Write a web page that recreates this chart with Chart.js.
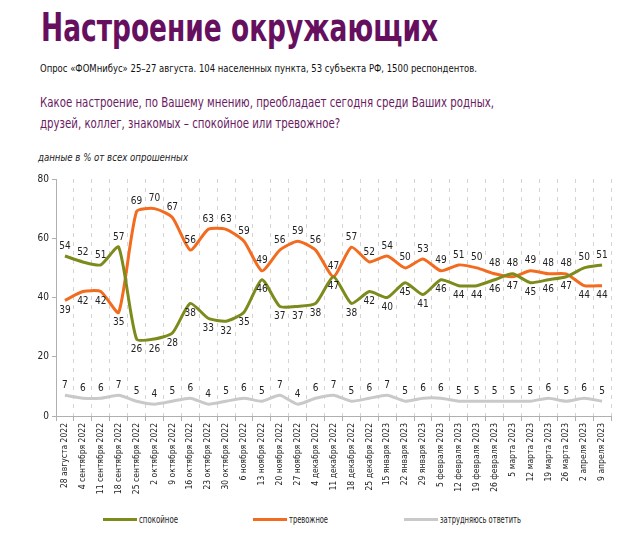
<!DOCTYPE html>
<html lang="ru">
<head>
<meta charset="UTF-8">
<title>Настроение окружающих</title>
<script src="https://cdn.jsdelivr.net/npm/chart.js"></script>
<style>
  body {
    margin: 0;
    background: #fff;
    width: 626px;
    height: 558px;
    position: relative;
    overflow: hidden;
    font-family: "Liberation Sans Narrow", "DejaVu Sans Condensed", sans-serif;
  }
  .txt { position: absolute; white-space: nowrap; transform-origin: 0 0; line-height: 1; }
  #title { left: 41px; top: 8px; font-size: 39px; font-weight: bold; color: #660f5f; }
  #sub { left: 40px; top: 63px; font-size: 11px; color: #111; }
  .q { left: 40px; font-size: 14px; color: #6a1a62; }
  #q1 { top: 95px; }
  #q2 { top: 116px; }
  #note { left: 38px; top: 152px; font-size: 10.5px; font-style: italic; color: #222; }
  #chartBox { position: absolute; left: 0; top: 165px; width: 626px; height: 330px; }
  .ln { position: absolute; top: 518px; width: 34px; height: 3px; }
  .legtxt { top: 514px; font-size: 10.5px; color: #222; }
</style>
</head>
<body>
  <div class="txt" id="title">Настроение окружающих</div>
  <div class="txt" id="sub">Опрос «ФОМнибус» 25–27 августа. 104 населенных пункта, 53 субъекта РФ, 1500 респондентов.</div>
  <div class="txt q" id="q1">Какое настроение, по Вашему мнению, преобладает сегодня среди Ваших родных,</div>
  <div class="txt q" id="q2">друзей, коллег, знакомых – спокойное или тревожное?</div>
  <div class="txt" id="note">данные в % от всех опрошенных</div>

  <div id="chartBox"><canvas id="moodChart"></canvas></div>

  <div class="ln" style="left:103px; background:#7d8a1c"></div>
  <div class="txt legtxt" id="leg1" style="left:139px">спокойное</div>
  <div class="ln" style="left:253px; background:#f26b1f"></div>
  <div class="txt legtxt" id="leg2" style="left:289px">тревожное</div>
  <div class="ln" style="left:404px; background:#c9c9c9"></div>
  <div class="txt legtxt" id="leg3" style="left:440px">затрудняюсь ответить</div>

<script>
  // dates of the weekly polls
  const dates = [
    "28 августа 2022", "4 сентября 2022", "11 сентября 2022", "18 сентября 2022",
    "25 сентября 2022", "2 октября 2022", "9 октября 2022", "16 октября 2022",
    "23 октября 2022", "30 октября 2022", "6 ноября 2022", "13 ноября 2022",
    "20 ноября 2022", "27 ноября 2022", "4 декабря 2022", "11 декабря 2022",
    "18 декабря 2022", "25 декабря 2022", "15 января 2023", "22 января 2023",
    "29 января 2023", "5 февраля 2023", "12 февраля 2023", "19 февраля 2023",
    "26 февраля 2023", "5 марта 2023", "12 марта 2023", "19 марта 2023",
    "26 марта 2023", "2 апреля 2023", "9 апреля 2023"
  ];

  const calm = [54, 52, 51, 57, 26, 26, 28, 38, 33, 32, 35, 46, 37, 37, 38, 47,
                38, 42, 40, 45, 41, 46, 44, 44, 46, 48, 45, 46, 47, 50, 51];
  const anxious = [39, 42, 42, 35, 69, 70, 67, 56, 63, 63, 59, 49, 56, 59, 56, 47,
                   57, 52, 54, 50, 53, 49, 51, 50, 48, 47, 49, 48, 48, 44, 44];
  const hardToSay = [7, 6, 6, 7, 5, 4, 5, 6, 4, 5, 6, 5, 7, 4, 6, 7,
                     5, 6, 7, 5, 6, 6, 5, 5, 5, 5, 5, 6, 5, 6, 5];

  const yTicks = [0, 20, 40, 60, 80];

  const labelFont = '10px "Liberation Sans Narrow", "DejaVu Sans Condensed", sans-serif';

  // stretch header lines to the widths they have in the original
  function fitWidth(id, target) {
    const el = document.getElementById(id);
    const w = el.getBoundingClientRect().width;
    if (w > 0) el.style.transform = 'scaleX(' + (target / w) + ')';
  }
  fitWidth('title', 397);
  fitWidth('sub', 437);
  fitWidth('q1', 454);
  fitWidth('note', 150);
  fitWidth('leg1', 39);
  fitWidth('leg2', 39);
  fitWidth('leg3', 81);
  document.getElementById('q2').style.transform = document.getElementById('q1').style.transform;

  // value labels: higher of the two main series above its line, lower below
  const valueLabels = {
    id: 'valueLabels',
    afterDatasetsDraw(chart) {
      const ctx = chart.ctx;
      const mCalm = chart.getDatasetMeta(0).data;
      const mAnx = chart.getDatasetMeta(1).data;
      const mHard = chart.getDatasetMeta(2).data;
      ctx.save();
      ctx.font = labelFont;
      ctx.fillStyle = '#222';
      ctx.textAlign = 'center';
      ctx.textBaseline = 'middle';
      for (let i = 0; i < dates.length; i++) {
        const anxUp = anxious[i] >= calm[i];
        const pa = mAnx[i], pc = mCalm[i], ph = mHard[i];
        ctx.fillText(anxious[i], pa.x, pa.y + (anxUp ? -10 : 10));
        ctx.fillText(calm[i], pc.x, pc.y + (anxUp ? 10 : -10));
        ctx.fillText(hardToSay[i], ph.x, ph.y - 10);
      }
      ctx.restore();
    }
  };

  const ctx = document.getElementById('moodChart').getContext('2d');
  new Chart(ctx, {
    type: 'line',
    data: {
      labels: dates,
      datasets: [
        { label: 'спокойное', data: calm, borderColor: '#7d8a1c' },
        { label: 'тревожное', data: anxious, borderColor: '#f26b1f' },
        { label: 'затрудняюсь ответить', data: hardToSay, borderColor: '#c9c9c9' }
      ]
    },
    options: {
      responsive: true,
      maintainAspectRatio: false,
      animation: false,
      layout: { padding: { top: 14, right: 15, left: 0, bottom: 0 } },
      elements: {
        line: { borderWidth: 3, tension: 0.2, fill: false },
        point: { radius: 0, hoverRadius: 0 }
      },
      plugins: {
        legend: { display: false },
        tooltip: { enabled: false }
      },
      scales: {
        x: {
          offset: true,
          grid: {
            offset: true,
            color: '#d4d4d4',
            lineWidth: 1,
            tickLength: 5,
            tickColor: '#b0b0b0'
          },
          border: { display: true, color: '#b0b0b0', width: 1, dash: [4, 5] },
          ticks: {
            autoSkip: false,
            maxRotation: 90,
            minRotation: 90,
            padding: 2,
            color: '#222',
            font: { family: '"Liberation Sans Narrow", "DejaVu Sans Condensed", sans-serif', size: 8.5 }
          },
          afterFit(scale) { scale.height = 79; }
        },
        y: {
          min: 0,
          max: 80,
          afterBuildTicks(scale) { scale.ticks = yTicks.map(v => ({ value: v })); },
          grid: { drawOnChartArea: false, tickLength: 4, tickColor: '#b0b0b0' },
          border: { display: true, color: '#b0b0b0', width: 1 },
          ticks: {
            padding: 3,
            color: '#222',
            font: { family: '"Liberation Sans Narrow", "DejaVu Sans Condensed", sans-serif', size: 10 }
          },
          afterFit(scale) { scale.width = 56; }
        }
      }
    },
    plugins: [valueLabels]
  });
</script>
</body>
</html>
